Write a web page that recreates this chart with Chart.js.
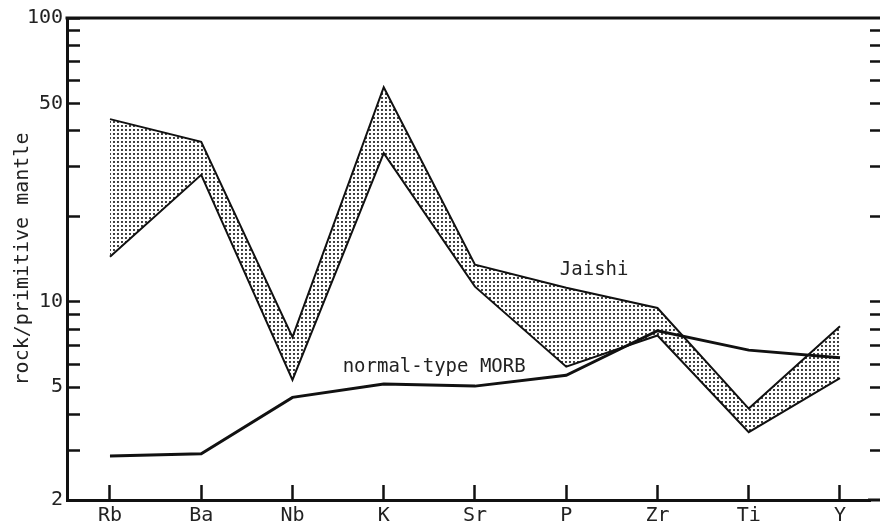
<!DOCTYPE html>
<html>
<head>
<meta charset="utf-8">
<script src="https://cdn.jsdelivr.net/npm/chart.js@4/dist/chart.umd.min.js"></script>
<style>
  html, body { margin: 0; padding: 0; background: #fff; }
  #spider { display: block; }
</style>
</head>
<body>
<canvas id="spider" width="880" height="525"></canvas>
<script>
// element order (x axis)
const elements = ['Rb', 'Ba', 'Nb', 'K', 'Sr', 'P', 'Zr', 'Ti', 'Y'];

// Jaishi field: upper and lower bounding lines
const jaishiHigh = [44, 36.6, 7.5, 57, 13.5, 11.2, 9.5, 4.2, 8.2];
const jaishiLow = [14.4, 28, 5.3, 33.4, 11.3, 5.9, 7.6, 3.47, 5.38];

// normal-type MORB
const morb = [2.86, 2.91, 4.6, 5.13, 5.04, 5.5, 7.9, 6.75, 6.35];

// y axis ticks
const yTicksLeft = [2, 3, 4, 5, 6, 7, 8, 9, 10, 20, 30, 40, 50, 60, 70, 80, 90, 100];
const yTicksRight = [3, 4, 5, 6, 7, 8, 9, 10, 20, 30, 40, 50, 60, 70, 80, 90];
const yLabels = [2, 5, 10, 50, 100];

// text labels in the plot (data coordinates)
const notes = [
  { text: 'Jaishi', x: 4.93, y: 12.4 },
  { text: 'normal-type MORB', x: 2.55, y: 5.67 }
];

const INK = '#111';
const FONT = '"DejaVu Sans Mono", monospace';

// stipple pattern for the Jaishi band
function makeDots() {
  const c = document.createElement('canvas');
  c.width = 4;
  c.height = 4;
  const g = c.getContext('2d');
  g.fillStyle = '#111';
  g.beginPath();
  g.arc(2, 2, 1.05, 0, Math.PI * 2);
  g.fill();
  return g.createPattern(c, 'repeat');
}

function xy(arr) {
  return arr.map((v, i) => ({ x: i, y: v }));
}

// frame lines (top + bottom run out to the page edge) and text notes
const framePlugin = {
  id: 'frame',
  afterDraw(chart) {
    const ctx = chart.ctx;
    const a = chart.chartArea;
    ctx.save();
    ctx.strokeStyle = INK;
    ctx.lineWidth = 3;
    ctx.beginPath();
    ctx.moveTo(a.left - 1.5, a.top);
    ctx.lineTo(chart.width, a.top);
    ctx.moveTo(a.right - 2, a.bottom);
    ctx.lineTo(chart.width, a.bottom);
    ctx.stroke();

    const xs = chart.scales.x;
    const ys = chart.scales.y;
    ctx.fillStyle = '#222';
    ctx.font = '19px ' + FONT;
    ctx.textAlign = 'left';
    ctx.textBaseline = 'alphabetic';
    notes.forEach(n => {
      ctx.fillText(n.text, xs.getPixelForValue(n.x), ys.getPixelForValue(n.y));
    });
    ctx.restore();
  }
};

new Chart(document.getElementById('spider'), {
  type: 'line',
  data: {
    datasets: [
      {
        label: 'Jaishi max',
        data: xy(jaishiHigh),
        borderColor: INK,
        borderWidth: 2,
        backgroundColor: makeDots(),
        fill: '+1',
        pointRadius: 0,
        tension: 0
      },
      {
        label: 'Jaishi min',
        data: xy(jaishiLow),
        borderColor: INK,
        borderWidth: 2,
        fill: false,
        pointRadius: 0,
        tension: 0
      },
      {
        label: 'normal-type MORB',
        data: xy(morb),
        borderColor: INK,
        borderWidth: 3,
        fill: false,
        pointRadius: 0,
        tension: 0
      }
    ]
  },
  options: {
    responsive: false,
    animation: false,
    layout: { padding: { top: 18, left: 0, right: 0, bottom: 0 } },
    plugins: {
      legend: { display: false },
      tooltip: { enabled: false }
    },
    scales: {
      x: {
        type: 'linear',
        min: -0.471,
        max: 8.329,
        afterBuildTicks: s => { s.ticks = elements.map((e, i) => ({ value: i })); },
        afterFit: s => { s.height = 25; s.paddingLeft = 0; s.paddingRight = 0; },
        border: { display: true, color: INK, width: 3 },
        grid: { drawOnChartArea: false, tickLength: -15, tickColor: INK, tickWidth: 2.5 },
        ticks: {
          padding: 19,
          maxRotation: 0,
          autoSkip: false,
          color: '#222',
          font: { family: FONT, size: 20 },
          callback: v => elements[v] ?? ''
        }
      },
      y: {
        type: 'logarithmic',
        position: 'left',
        min: 2,
        max: 100,
        afterBuildTicks: s => { s.ticks = yTicksLeft.map(v => ({ value: v })); },
        afterFit: s => { s.width = 67; s.paddingTop = 0; s.paddingBottom = 0; },
        border: { display: true, color: INK, width: 3 },
        grid: { drawOnChartArea: false, tickLength: -13, tickColor: INK, tickWidth: 2.5 },
        ticks: {
          padding: 17,
          autoSkip: false,
          color: '#222',
          font: { family: FONT, size: 20 },
          callback: v => yLabels.includes(v) ? String(v) : ''
        },
        title: {
          display: true,
          text: 'rock/primitive mantle',
          color: '#222',
          font: { family: FONT, size: 20 },
          padding: { top: 11, bottom: 0 }
        }
      },
      y2: {
        type: 'logarithmic',
        position: 'right',
        min: 2,
        max: 100,
        afterBuildTicks: s => { s.ticks = yTicksRight.map(v => ({ value: v })); },
        afterFit: s => { s.paddingTop = 0; s.paddingBottom = 0; },
        border: { display: false },
        grid: { drawOnChartArea: false, tickLength: 10, tickColor: INK, tickWidth: 2.5 },
        ticks: { display: false }
      }
    }
  },
  plugins: [framePlugin]
});
</script>
</body>
</html>
